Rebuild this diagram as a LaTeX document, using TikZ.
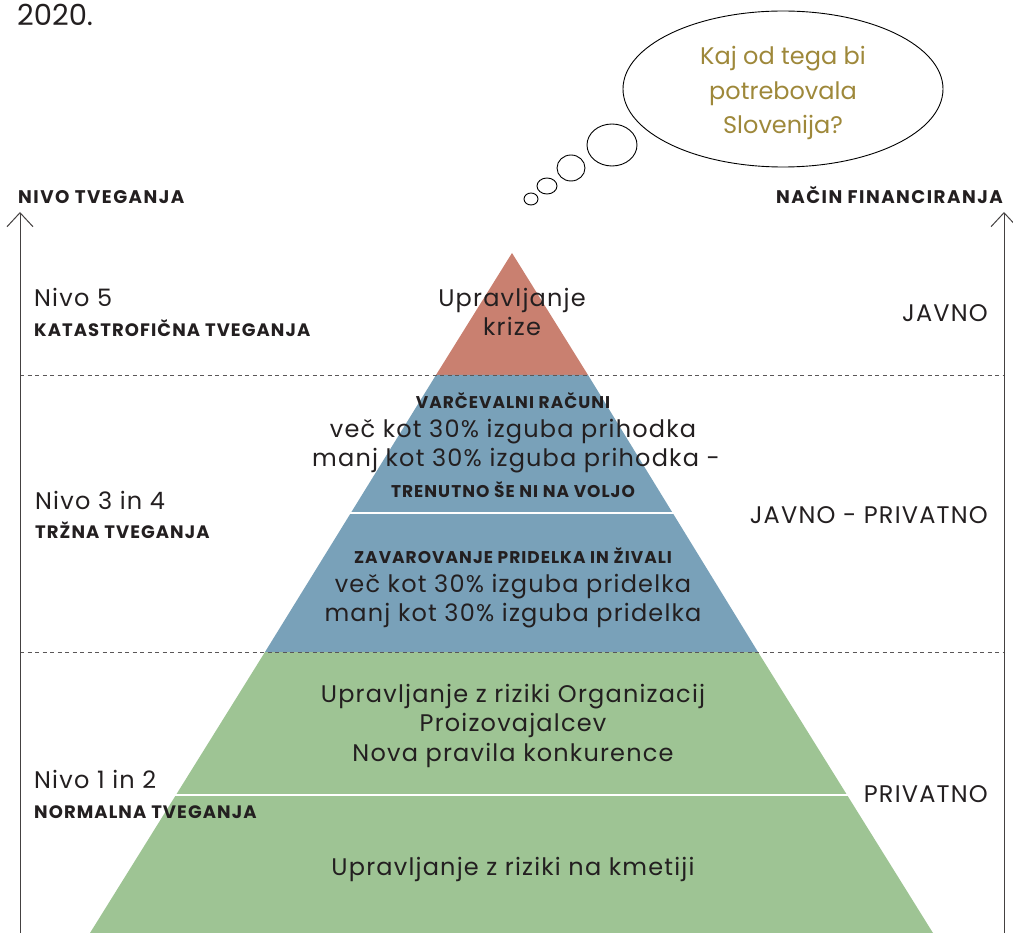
\documentclass[tikz,border=0pt]{standalone}
\usepackage{fontspec}
\setmainfont{Poppins}
\newfontfamily\capsfont[LetterSpace=6]{Poppins}
\newfontfamily\headfont[LetterSpace=8]{Poppins}
\newfontfamily\widefont[LetterSpace=5]{Poppins}
\usetikzlibrary{arrows.meta}
\usetikzlibrary{shapes.geometric}
\definecolor{krizered}{RGB}{201,128,112}
\definecolor{trgblue}{RGB}{121,161,185}
\definecolor{normgreen}{RGB}{158,196,148}
\definecolor{bubblegold}{RGB}{158,136,58}
\definecolor{inkgray}{RGB}{35,31,32}
\tikzset{axis/.style = {draw=inkgray!85, line width=1pt,
                        -{Straight Barb[length=14pt,width=26pt,line width=1pt]}},
         divider/.style = {draw=inkgray!75, line width=0.8pt, dash pattern=on 4pt off 3.5pt},
         layerline/.style = {draw=white, line width=2pt},
         regtext/.style = {font=\widefont\fontsize{24}{29.5}\selectfont, text=inkgray, align=center, inner sep=0pt},
         capstext/.style = {font=\capsfont\bfseries\fontsize{18}{21}\selectfont, text=inkgray, inner sep=0pt},
         headtext/.style = {font=\headfont\bfseries\fontsize{18.3}{21}\selectfont, text=inkgray, inner sep=0pt},
         pyrcaps/.style = {font=\capsfont\bfseries\fontsize{17}{20}\selectfont, text=inkgray, inner sep=0pt}}

\begin{document}
\begin{tikzpicture}[x=1pt, y=-1pt]
      \useasboundingbox (0, 0) rectangle (1013, 933);

      % piramida
      \fill [krizered] (512, 253) -- (588, 375) -- (436, 375) -- cycle;
      \fill [trgblue] (436, 375) -- (588, 375) -- (758, 652) -- (265, 652) -- cycle;
      \fill [normgreen] (265, 652) -- (758, 652) -- (933, 933) -- (90, 933) -- cycle;
      \draw [layerline] (350, 513) -- (674, 513);
      \draw [layerline] (175, 795) -- (848, 795);

      \draw [divider] (20, 375) -- (1004, 375);
      \draw [divider] (20, 652) -- (1004, 652);

      \coordinate (lbot) at (20, 933);
      \coordinate (ltop) at (20, 212);
      \coordinate (rbot) at (1004, 933);
      \coordinate (rtop) at (1004, 212);
      \draw [axis] (lbot) -- (ltop);
      \draw [axis] (rbot) -- (rtop);

      \node (leto) [inner sep=0pt, text=inkgray, font=\fontsize{29}{34}\selectfont, anchor = base west] at (17, 26) {2020.};
      \node (nivohead) [headtext, anchor = base west] at (18, 204) {NIVO TVEGANJA};
      \node (nacinhead) [headtext, anchor = base east] at (1003, 204) {NAČIN FINANCIRANJA};

      % misel
      \node (bubble) [ellipse, draw, line width=0.9pt, minimum width=320pt, minimum height=156pt] at (783, 89) {};
      \node (vprasanje) [align=center, inner sep=0pt, text=bubblegold,
                         font=\fontsize{24}{34.5}\selectfont] at (783, 93) {Kaj od tega bi\\potrebovala\\Slovenija?};
      \draw [line width=0.9pt] (612, 145) ellipse (25 and 21);
      \draw [line width=0.9pt] (571, 168) ellipse (14 and 13);
      \draw [line width=0.9pt] (547, 186) ellipse (10 and 8);
      \draw [line width=0.9pt] (531, 199) ellipse (7 and 6);

      % levo
      \node (nivo5) [regtext, anchor = base west] at (34, 307) {Nivo 5};
      \node (katastr) [capstext, anchor = base west] at (34, 337) {KATASTROFIČNA TVEGANJA};
      \node (nivo34) [regtext, anchor = base west] at (35, 509) {Nivo 3 in 4};
      \node (trzna) [capstext, anchor = base west] at (35, 538) {TRŽNA TVEGANJA};
      \node (nivo12) [regtext, anchor = base west] at (34, 788) {Nivo 1 in 2};
      \node (normalna) [capstext, anchor = base west] at (34, 818) {NORMALNA TVEGANJA};

      % desno
      \node (javno) [regtext, anchor = base east] at (988, 322) {JAVNO};
      \node (javnopriv) [regtext, anchor = base east] at (988, 523) {JAVNO - PRIVATNO};
      \node (privatno) [regtext, anchor = base east] at (988, 802) {PRIVATNO};

      % vsebina piramide
      \node (krize) [regtext, anchor = north] at (512, 288) {Upravljanje\\krize};
      \node (varcev) [pyrcaps, anchor = base] at (513, 409) {VARČEVALNI RAČUNI};
      \node (prih1) [regtext, anchor = base] at (513, 438) {več kot 30\% izguba prihodka};
      \node (prih2) [regtext, anchor = base] at (516, 467) {manj kot 30\% izguba prihodka -};
      \node (trenutno) [pyrcaps, anchor = base] at (513, 497) {TRENUTNO ŠE NI NA VOLJO};
      \node (zavar) [pyrcaps, anchor = base] at (513, 563) {ZAVAROVANJE PRIDELKA IN ŽIVALI};
      \node (prid1) [regtext, anchor = base] at (513, 592) {več kot 30\% izguba pridelka};
      \node (prid2) [regtext, anchor = base] at (513, 621) {manj kot 30\% izguba pridelka};
      \node (organiz) [regtext, anchor = north] at (513, 684) {Upravljanje z riziki Organizacij\\Proizovajalcev\\Nova pravila konkurence};
      \node (kmetija) [regtext, anchor = base] at (513, 875) {Upravljanje z riziki na kmetiji};
\end{tikzpicture}
\end{document}
